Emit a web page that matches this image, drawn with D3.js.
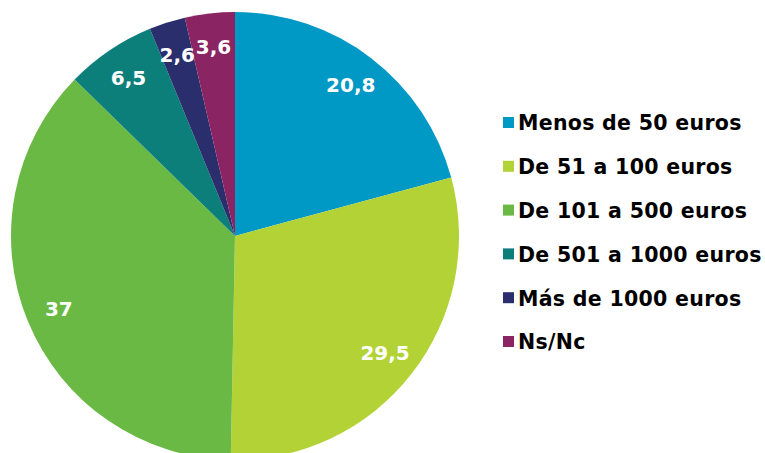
<!DOCTYPE html>
<html>
<head>
<meta charset="utf-8">
<script src="https://cdn.jsdelivr.net/npm/d3@7"></script>
<style>
  body { margin: 0; background: #fff; }
  #chart { width: 765px; height: 453px; }
  text { font-family: Verdana, "DejaVu Sans", sans-serif; font-weight: bold; }
</style>
</head>
<body>
<div id="chart"></div>
<script>
var categories = ["Menos de 50 euros", "De 51 a 100 euros", "De 101 a 500 euros",
                  "De 501 a 1000 euros", "Más de 1000 euros", "Ns/Nc"];
var values = [20.8, 29.5, 37, 6.5, 2.6, 3.6];
var labels = ["20,8", "29,5", "37", "6,5", "2,6", "3,6"];
var colors = ["#0099C5", "#B3D236", "#6AB945", "#0D7F7B", "#2B2E6C", "#8A2462"];

var width = 765, height = 453;
var cx = 235, cy = 236, radius = 224;

var svg = d3.select("#chart").append("svg")
    .attr("width", width)
    .attr("height", height);

var color = d3.scaleOrdinal().domain(categories).range(colors);

var pie = d3.pie().sort(null).value(function(d) { return d.value; });
var data = categories.map(function(c, i) { return { name: c, value: values[i], label: labels[i] }; });
var arcs = pie(data);

var arc = d3.arc().innerRadius(0).outerRadius(radius);
var labelArc = d3.arc().innerRadius(radius * 0.85).outerRadius(radius * 0.85);

var g = svg.append("g").attr("transform", "translate(" + cx + "," + cy + ")");

g.selectAll("path")
    .data(arcs)
    .enter().append("path")
    .attr("d", arc)
    .attr("fill", function(d) { return color(d.data.name); });

// etiquetas de valores
g.selectAll(".lbl")
    .data(arcs)
    .enter().append("text")
    .attr("class", "lbl")
    .attr("transform", function(d) { return "translate(" + labelArc.centroid(d) + ")"; })
    .attr("dy", "0.36em")
    .style("text-anchor", "middle")
    .style("font-size", "20px")
    .style("fill", "#fff")
    .text(function(d) { return d.data.label; });

// leyenda
var legend = svg.append("g").attr("transform", "translate(503,123)");
var rowH = 43.8;

var rows = legend.selectAll(".row")
    .data(categories)
    .enter().append("g")
    .attr("class", "row")
    .attr("transform", function(d, i) { return "translate(0," + (i * rowH) + ")"; });

rows.append("rect")
    .attr("x", 0)
    .attr("y", -6)
    .attr("width", 11)
    .attr("height", 11)
    .attr("fill", function(d) { return color(d); });

rows.append("text")
    .attr("x", 15)
    .attr("dy", "0.36em")
    .style("font-size", "20.5px")
    .style("letter-spacing", "0.3px")
    .style("fill", "#000")
    .text(function(d) { return d; });
</script>
</body>
</html>
